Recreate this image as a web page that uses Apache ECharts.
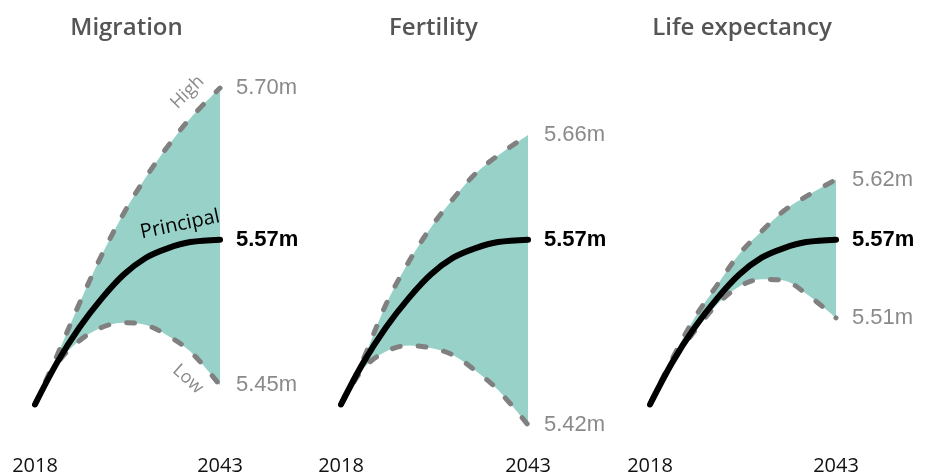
<!DOCTYPE html>
<html>
<head>
	<meta charset="utf-8">
	<script src="https://cdn.jsdelivr.net/npm/echarts@6/dist/echarts.min.js"></script>
	<style>body{margin:0;background:#fff;}</style>
</head>
<body>
	<div id="main" style="width:935px;height:474px;"></div>
</body>
<script type="text/javascript">
// population, millions
var axisYears = ['2018','2019','2020','2021','2022','2023','2024','2025','2026','2027','2028','2029','2030',
	'2031','2032','2033','2034','2035','2036','2037','2038','2039','2040','2041','2042','2043'];
var years = ['2018', '2021', '2024', '2027', '2030', '2033', '2036', '2039', '2043'];
var principal = [5.437, 5.472, 5.501, 5.525, 5.545, 5.559, 5.567, 5.572, 5.574];
var migrationHigh = [5.437, 5.478, 5.521, 5.561, 5.596, 5.626, 5.652, 5.675, 5.700];
var migrationLow = [5.437, 5.471, 5.490, 5.501, 5.505, 5.503, 5.494, 5.481, 5.453];
var fertilityHigh = [5.437, 5.475, 5.520, 5.555, 5.584, 5.608, 5.629, 5.644, 5.661];
var fertilityLow = [5.437, 5.467, 5.481, 5.486, 5.484, 5.478, 5.465, 5.449, 5.420];
var lifeHigh = [5.437, 5.475, 5.509, 5.536, 5.562, 5.581, 5.598, 5.610, 5.624];
var lifeLow = [5.437, 5.472, 5.498, 5.520, 5.535, 5.541, 5.540, 5.529, 5.509];
var panelTitles = ['Migration', 'Fertility', 'Life expectancy'];

var highs = [migrationHigh, fertilityHigh, lifeHigh];
var lows = [migrationLow, fertilityLow, lifeLow];

var teal = '#98d1c8';
var grey = '#808080';
var labelGrey = '#8a8a8a';
var grids = [
	{left: 35, width: 185, top: 64, height: 385, outerBoundsMode: 'none'},
	{left: 341, width: 187, top: 64, height: 385, outerBoundsMode: 'none'},
	{left: 650, width: 186, top: 64, height: 385, outerBoundsMode: 'none'}
];

function pairs(v){
	return years.map(function(y, i){ return [y, v[i]]; });
}
function fmt(p){
	return p.value[1].toFixed(2) + 'm';
}
var last = years.length - 1;

var titles = [], xAxes = [], yAxes = [], series = [];
for(i=0;i<3;i++){
	titles.push({
		text: panelTitles[i],
		left: grids[i].left + grids[i].width/2 - 6,
		top: 11,
		textAlign: 'center',
		textStyle: {fontFamily: 'Open Sans', fontSize: 24, fontWeight: 600, color: '#555555'}
	});
	xAxes.push({
		gridIndex: i, type: 'category', data: axisYears, boundaryGap: false,
		axisLine: {show: false}, axisTick: {show: false}, splitLine: {show: false},
		axisLabel: {
			interval: function(idx){ return idx == 0 || idx == axisYears.length - 1; },
			margin: 7, fontFamily: 'Open Sans', fontSize: 20, color: '#111'
		}
	});
	yAxes.push({gridIndex: i, type: 'value', min: 5.40, max: 5.72, show: false});

	var diff = highs[i].map(function(h, k){ return h - lows[i][k]; });
	series.push({
		type: 'line', xAxisIndex: i, yAxisIndex: i, stack: 'band' + i,
		data: pairs(lows[i]), smooth: 0.35, symbol: 'none', silent: true,
		lineStyle: {opacity: 0}
	});
	series.push({
		type: 'line', xAxisIndex: i, yAxisIndex: i, stack: 'band' + i,
		data: pairs(diff), smooth: 0.35, symbol: 'none', silent: true,
		lineStyle: {opacity: 0}, areaStyle: {color: teal, opacity: 1}
	});
	[highs[i], lows[i]].forEach(function(arr, k){
		var s = {
			type: 'line', xAxisIndex: i, yAxisIndex: i, data: pairs(arr),
			smooth: 0.35, symbol: 'none', clip: false,
			lineStyle: {color: grey, width: 5, type: [8, 18], cap: 'round'},
			endLabel: {show: true, formatter: fmt, distance: 16,
				fontFamily: 'Liberation Sans', fontSize: 22, color: labelGrey}
		};
		if(i == 0){
			// offsets are in the rotated frame of the label
			s.markPoint = {
				symbol: 'circle', symbolSize: 0, silent: true,
				data: [{coord: [years[last], arr[last]]}],
				label: {
					show: true, position: 'inside',
					formatter: k == 0 ? 'High' : 'Low',
					rotate: k == 0 ? 45 : -42,
					offset: k == 0 ? [-26, -20] : [-28, 17],
					fontFamily: 'Open Sans', fontSize: 18, color: labelGrey
				}
			};
		}
		series.push(s);
	});
	var p = {
		type: 'line', xAxisIndex: i, yAxisIndex: i, data: pairs(principal),
		smooth: 0.35, symbol: 'none', clip: false,
		lineStyle: {color: '#000', width: 6, cap: 'round'},
		endLabel: {show: true, formatter: fmt, distance: 16,
			fontFamily: 'Liberation Sans', fontSize: 22, fontWeight: 'bold', color: '#000'}
	};
	if(i == 0){
		p.markPoint = {
			symbol: 'circle', symbolSize: 0, silent: true,
			data: [{coord: [years[last], principal[last]]}],
			label: {
				show: true, position: 'inside', formatter: 'Principal', rotate: 12,
				offset: [-36, -23], fontFamily: 'Open Sans', fontSize: 20, color: '#000'
			}
		};
	}
	series.push(p);
}

var myChart = echarts.init(document.getElementById('main'));
myChart.setOption({
	animation: false,
	title: titles,
	grid: grids,
	xAxis: xAxes,
	yAxis: yAxes,
	series: series
});
</script>
</html>
